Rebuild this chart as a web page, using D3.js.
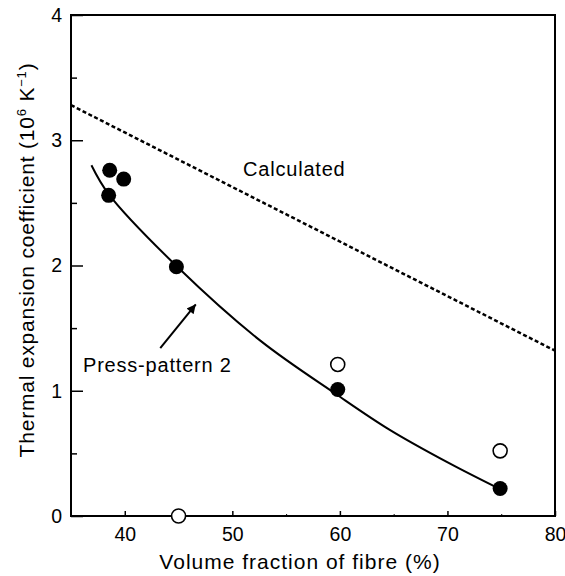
<!DOCTYPE html>
<html>
<head>
<meta charset="utf-8">
<script src="https://cdn.jsdelivr.net/npm/d3@7"></script>
<style>
  body { margin: 0; background: #fff; }
  text { font-family: "Liberation Sans", Arial, sans-serif; fill: #000; }
</style>
</head>
<body>
<div id="chart"></div>
<script>
// values
var xTicks = [40, 50, 60, 70, 80];
var xMinor = [45, 55, 65, 75];
var yTicks = [0, 1, 2, 3, 4];
var yMinor = [0.5, 1.5, 2.5, 3.5];

// measured points, press-pattern 2 (filled)
var filledX = [38.6, 39.9, 38.5, 44.8, 59.8, 74.9];
var filledY = [2.76, 2.69, 2.56, 1.99, 1.01, 0.22];
// open circles
var openX = [45, 59.8, 74.9];
var openY = [0, 1.21, 0.52];

// fitted curve through press-pattern 2
var fitX = [36.9, 38.5, 45, 52.6, 59.7, 64.6, 70.2, 75];
var fitY = [2.80, 2.57, 1.98, 1.40, 0.97, 0.69, 0.42, 0.21];

// calculated (dotted) line
var calcX = [35, 80];
var calcY = [3.28, 1.32];

// arrow for the label, tail -> tip
var arrowX = [43.3, 46.6];
var arrowY = [1.34, 1.69];

var W = 565, H = 576;
var svg = d3.select("#chart").append("svg").attr("width", W).attr("height", H);

var x = d3.scaleLinear().domain([35, 80]).range([71, 555]);
var y = d3.scaleLinear().domain([0, 4]).range([516, 15]);

// x axis, ticks pointing inward
var gx = svg.append("g").attr("transform", "translate(0,516)")
    .call(d3.axisBottom(x).tickValues(xTicks).tickSize(-5).tickPadding(11));
gx.select(".domain").remove();
gx.selectAll("line").attr("stroke-width", 1.5);
gx.selectAll("text").attr("font-size", 19.5).attr("font-family", null);

svg.append("g").attr("transform", "translate(0,516)")
    .call(d3.axisBottom(x).tickValues(xMinor).tickSize(-2).tickFormat(""))
    .call(function(g) { g.select(".domain").remove(); });

// y axis
var gy = svg.append("g").attr("transform", "translate(71,0)")
    .call(d3.axisLeft(y).tickValues(yTicks).tickSize(-12).tickPadding(9).tickFormat(d3.format("d")));
gy.select(".domain").remove();
gy.selectAll("line").attr("stroke-width", 1.5);
gy.selectAll("text").attr("font-size", 19.5).attr("font-family", null);

svg.append("g").attr("transform", "translate(71,0)")
    .call(d3.axisLeft(y).tickValues(yMinor).tickSize(-6).tickFormat(""))
    .call(function(g) { g.select(".domain").remove(); g.selectAll("line").attr("stroke-width", 1.5); });

// frame
svg.append("rect")
    .attr("x", x(35)).attr("y", y(4))
    .attr("width", x(80) - x(35)).attr("height", y(0) - y(4))
    .attr("fill", "none").attr("stroke", "#000").attr("stroke-width", 2);

// calculated line
svg.append("path")
    .datum(d3.zip(calcX, calcY))
    .attr("d", d3.line().x(function(d) { return x(d[0]); }).y(function(d) { return y(d[1]); }))
    .attr("fill", "none").attr("stroke", "#000")
    .attr("stroke-width", 2.5).attr("stroke-dasharray", "4,2.5");

// fitted curve
svg.append("path")
    .datum(d3.zip(fitX, fitY))
    .attr("d", d3.line().curve(d3.curveCatmullRom)
        .x(function(d) { return x(d[0]); }).y(function(d) { return y(d[1]); }))
    .attr("fill", "none").attr("stroke", "#000").attr("stroke-width", 2);

// open circles
svg.selectAll("circle.open").data(d3.zip(openX, openY)).enter()
    .append("circle").attr("class", "open")
    .attr("cx", function(d) { return x(d[0]); })
    .attr("cy", function(d) { return y(d[1]); })
    .attr("r", 7)
    .attr("fill", "#fff").attr("stroke", "#000").attr("stroke-width", 1.6);

// filled circles
svg.selectAll("circle.filled").data(d3.zip(filledX, filledY)).enter()
    .append("circle").attr("class", "filled")
    .attr("cx", function(d) { return x(d[0]); })
    .attr("cy", function(d) { return y(d[1]); })
    .attr("r", 7.5)
    .attr("fill", "#000");

// arrow
svg.append("defs").append("marker")
    .attr("id", "head").attr("viewBox", "0 0 10 10")
    .attr("refX", 10).attr("refY", 5)
    .attr("markerWidth", 13).attr("markerHeight", 9)
    .attr("markerUnits", "userSpaceOnUse")
    .attr("orient", "auto")
  .append("path").attr("d", "M0,0L10,5L0,10Z").attr("fill", "#000");

svg.append("line")
    .attr("x1", x(arrowX[0])).attr("y1", y(arrowY[0]))
    .attr("x2", x(arrowX[1])).attr("y2", y(arrowY[1]))
    .attr("stroke", "#000").attr("stroke-width", 2)
    .attr("marker-end", "url(#head)");

// labels
svg.append("text").attr("x", 243).attr("y", 176)
    .attr("font-size", 20).attr("letter-spacing", 0.8)
    .text("Calculated");

svg.append("text").attr("x", 83).attr("y", 372)
    .attr("font-size", 20).attr("letter-spacing", 0.8)
    .text("Press-pattern 2");

// axis titles
svg.append("text").attr("x", 300).attr("y", 569)
    .attr("text-anchor", "middle")
    .attr("font-size", 21).attr("letter-spacing", 1)
    .text("Volume fraction of fibre (%)");

var yt = svg.append("text")
    .attr("transform", "translate(34,260) rotate(-90)")
    .attr("text-anchor", "middle")
    .attr("font-size", 21).attr("letter-spacing", 0.8);
yt.append("tspan").text("Thermal expansion coefficient (10");
yt.append("tspan").attr("dy", -8).attr("font-size", 13).text("6");
yt.append("tspan").attr("dy", 8).text(" K");
yt.append("tspan").attr("dy", -8).attr("font-size", 13).text("\u22121");
yt.append("tspan").attr("dy", 8).text(")");
</script>
</body>
</html>
